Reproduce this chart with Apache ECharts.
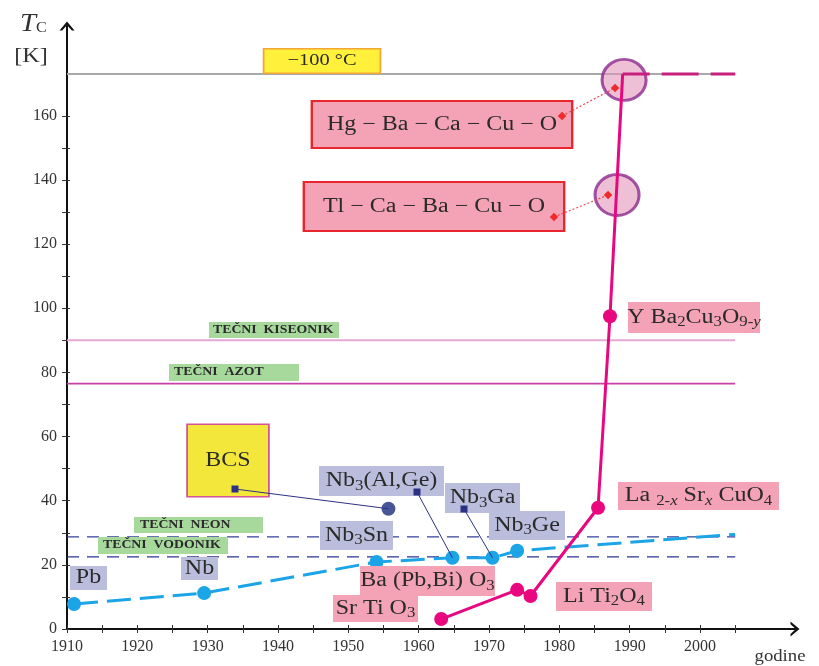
<!DOCTYPE html>
<html><head><meta charset="utf-8">
<script src="https://cdn.jsdelivr.net/npm/echarts@6/dist/echarts.min.js"></script>
<style>html,body{margin:0;padding:0;background:#fff}#c{width:819px;height:666px}</style>
</head><body><div id="c"></div>
<script>
// ---------- data ----------
const blueYears = [1911, 1929.5, 1954, 1964.8, 1970.5, 1974, 2005];
const blueTc    = [7.8, 11.2, 20.9, 22.2, 22.2, 24.4, 29.5];
const bluePointCount = 6;
const pinkYears = [1963.2, 1974, 1975.9, 1985.5, 1987.2, 1989.0];
const pinkTc    = [3.1, 12.2, 10.3, 37.8, 97.5, 173];
const pinkPointCount = 5;
const pinkDashYears = [1989.0, 2005];
const pinkDashTc    = [173, 173];
const bcsYears = [1955.7];
const bcsTc    = [37.5];
const circleYears = [1988.2, 1989.2];
const circleTc    = [135.3, 171.2];
const refNames = ['minus100', 'kiseonik', 'azot', 'neon', 'vodonik'];
const refTc    = [173, 90, 76.5, 28.7, 22.5];
const refYears = [1910, 2005];
const xTicks  = [1910,1915,1920,1925,1930,1935,1940,1945,1950,1955,1960,1965,1970,1975,1980,1985,1990,1995,2000,2005];
const xLabels = [1910,1920,1930,1940,1950,1960,1970,1980,1990,2000];
const yTicks  = [0,10,20,30,40,50,60,70,80,90,100,110,120,130,140,150,160];
const yLabels = [0,20,40,60,80,100,120,140,160];

// ---------- styles ----------
const SERIF = '"Liberation Serif","Times New Roman",serif';
const chevron = 'path://M0,12 L10,0 L20,12 L16.5,12 L10,5 L3.5,12 Z';
const refStyles = {
  minus100: {color: '#a9a9a9', width: 2, type: 'solid'},
  kiseonik: {color: '#e3a8d5', width: 2, type: 'solid'},
  azot:     {color: '#c73fa8', width: 1.6, type: 'solid'},
  neon:     {color: '#34409a', width: 1.3, type: [12, 8]},
  vodonik:  {color: '#2b3590', width: 1.3, type: [12, 8]}
};

const chart = echarts.init(document.getElementById('c'));

const series = [];
refNames.forEach((n, i) => {
  series.push({
    type: 'line', silent: true, symbol: 'none', z: 1,
    data: refYears.map(y => [y, refTc[i]]),
    lineStyle: refStyles[n]
  });
});
series.push({
  type: 'scatter', z: 2,
  data: circleYears.map((y, i) => [y, circleTc[i]]),
  symbol: 'circle', symbolSize: [44, 41],
  itemStyle: {color: 'rgba(226,150,186,0.75)', borderColor: '#8c2a8e', borderWidth: 3}
});
series.push({
  type: 'line', z: 3,
  data: blueYears.map((y, i) => i < bluePointCount ? [y, blueTc[i]] : {value: [y, blueTc[i]], symbol: 'none'}),
  symbol: 'circle', symbolSize: 14,
  itemStyle: {color: '#1ba4e6'},
  lineStyle: {color: '#1ba4e6', width: 3, type: [24, 9]}
});
series.push({
  type: 'scatter', z: 4,
  data: bcsYears.map((y, i) => [y, bcsTc[i]]),
  symbol: 'circle', symbolSize: 14,
  itemStyle: {color: '#1b2c7c'}
});
series.push({
  type: 'line', z: 3,
  data: pinkDashYears.map((y, i) => [y, pinkDashTc[i]]),
  symbol: 'none',
  lineStyle: {color: '#c8207e', width: 3, type: [37, 12], dashOffset: 10}
});
series.push({
  type: 'line', z: 5,
  data: pinkYears.map((y, i) => i < pinkPointCount ? [y, pinkTc[i]] : {value: [y, pinkTc[i]], symbol: 'none'}),
  symbol: 'circle', symbolSize: 14,
  itemStyle: {color: '#e8077f'},
  lineStyle: {color: '#e8077f', width: 3}
});

const axisLbl = {fontFamily: SERIF, fontSize: 16, color: '#333', formatter: v => String(v)};
chart.setOption({
  animation: false,
  grid: {left: 67, right: 24, top: 26, bottom: 37},
  xAxis: [{
    type: 'value', min: 1910, max: 2013.5, position: 'bottom',
    axisLine: {show: true, onZero: false, lineStyle: {color: '#111', width: 2}, symbol: ['none', chevron], symbolSize: [15, 12]},
    axisTick: {show: true, customValues: xTicks, length: 4, lineStyle: {color: '#333', width: 1}},
    axisLabel: Object.assign({customValues: xLabels, margin: 10}, axisLbl),
    splitLine: {show: false}
  }, {
    type: 'value', min: 1910, max: 2013.5, position: 'bottom',
    axisLine: {show: false},
    axisTick: {show: true, inside: true, customValues: xTicks, length: 4, lineStyle: {color: '#333', width: 1}},
    axisLabel: {show: false}, splitLine: {show: false}
  }],
  yAxis: [{
    type: 'value', min: 0, max: 188, position: 'left',
    axisLine: {show: true, onZero: false, lineStyle: {color: '#111', width: 2}, symbol: ['none', chevron], symbolSize: [15, 12]},
    axisTick: {show: true, customValues: yTicks, length: 5, lineStyle: {color: '#333', width: 1}},
    axisLabel: Object.assign({customValues: yLabels, margin: 10}, axisLbl),
    splitLine: {show: false}
  }, {
    type: 'value', min: 0, max: 188, position: 'left',
    axisLine: {show: false},
    axisTick: {show: true, inside: true, customValues: yTicks, length: 3, lineStyle: {color: '#333', width: 1}},
    axisLabel: {show: false}, splitLine: {show: false}
  }],
  series: series
});

// ---------- annotations ----------
const SX = 1.2;
function label(cx, cy, w, h, text, bg, opt) {
  opt = opt || {};
  const fs = opt.fs || 20;
  const sub = Math.round(fs * 0.7);
  const col = '#2a2a2a';
  const style = {
    text: text,
    rich: {
      n:  {fontFamily: SERIF, fontSize: fs, fill: col, lineHeight: h, fontWeight: opt.bold ? 'bold' : 'normal'},
      i:  {fontFamily: SERIF, fontSize: fs, fill: col, lineHeight: h, fontStyle: 'italic'},
      s:  {fontFamily: SERIF, fontSize: sub, fill: col, padding: [Math.round(fs * 0.5), 0, 0, 0]},
      si: {fontFamily: SERIF, fontSize: sub, fill: col, fontStyle: 'italic', padding: [Math.round(fs * 0.5), 0, 0, 0]}
    },
    width: (w - (opt.padL || 0)) / SX,
    backgroundColor: bg,
    align: opt.left ? 'left' : 'center',
    verticalAlign: 'middle',
    padding: [0, 0, 0, (opt.padL || 0) / SX]
  };
  if (opt.border) { style.borderColor = opt.border; style.borderWidth = opt.bw || 2; }
  return {type: 'text', x: opt.left ? cx - w / 2 : cx, y: cy, scaleX: SX, z: 100, style: style};
}

const PINK = '#f4a2b5', LAV = '#babedc', GREEN = '#a7d99d';
const g = [];
g.push(label(322, 61, 115, 23, '{n|−100 °C}', '#fff03c', {fs: 17, border: '#f2a636', bw: 1.5}));
g.push(label(442, 124.5, 258, 45, '{n|Hg − Ba − Ca − Cu − O}', PINK, {border: '#e8262e'}));
g.push(label(434, 206.5, 258, 47, '{n|Tl − Ca − Ba − Cu − O}', PINK, {border: '#e8262e'}));
g.push(label(694, 317.5, 132, 31, '{n|Y Ba}{s|2}{n|Cu}{s|3}{n|O}{s|9-}{si|y}', PINK));
g.push(label(698.5, 496, 161, 28, '{n|La }{s|2-}{si|x}{n| Sr}{si|x}{n| CuO}{s|4}', PINK));
g.push(label(604, 596.5, 96, 29, '{n|Li Ti}{s|2}{n|O}{s|4}', PINK));
g.push(label(375.5, 608.5, 85, 27, '{n|Sr Ti O}{s|3}', PINK));
g.push(label(427.5, 581, 135, 30, '{n|Ba (Pb,Bi) O}{s|3}', PINK));
g.push(label(228, 460.5, 80, 71, '{n|BCS}', '#f4e73c', {border: '#d2559a', bw: 1.5}));
g.push(label(381.5, 481, 125, 30, '{n|Nb}{s|3}{n|(Al,Ge)}', LAV));
g.push(label(482.5, 498, 75, 30, '{n|Nb}{s|3}{n|Ga}', LAV));
g.push(label(527, 525.5, 76, 29, '{n|Nb}{s|3}{n|Ge}', LAV));
g.push(label(356.5, 535.5, 73, 29, '{n|Nb}{s|3}{n|Sn}', LAV));
g.push(label(199.5, 568.5, 37, 23, '{n|Nb}', LAV));
g.push(label(88.5, 578, 37, 24, '{n|Pb}', LAV));
g.push(label(274, 330, 130, 16, '{n|TEČNI  KISEONIK}', GREEN, {fs: 11.5, bold: true, left: true, padL: 4}));
g.push(label(234, 372.5, 130, 17, '{n|TEČNI  AZOT}', GREEN, {fs: 11.5, bold: true, left: true, padL: 5}));
g.push(label(198.5, 525, 129, 16, '{n|TEČNI  NEON}', GREEN, {fs: 11.5, bold: true, left: true, padL: 6}));
g.push(label(163, 545.5, 130, 17, '{n|TEČNI  VODONIK}', GREEN, {fs: 11.5, bold: true, left: true, padL: 5}));

// axis titles
g.push({type: 'text', x: 20, y: 24, z: 100, scaleX: 1.15, style: {
  text: '{t|T}{c|C}', verticalAlign: 'middle',
  rich: {t: {fontFamily: SERIF, fontSize: 25, fontStyle: 'italic', fill: '#333'},
         c: {fontFamily: SERIF, fontSize: 14, fill: '#333', padding: [9, 0, 0, 0]}}}});
g.push({type: 'text', x: 31, y: 56, z: 100, scaleX: 1.15, style: {
  text: '[K]', font: '21px ' + SERIF, fill: '#333', align: 'center', verticalAlign: 'middle'}});
g.push({type: 'text', x: 780, y: 657, z: 100, scaleX: 1.1, style: {
  text: 'godine', font: '17px ' + SERIF, fill: '#333', align: 'center', verticalAlign: 'middle'}});

// pointers
function px(x, y) { return chart.convertToPixel({gridIndex: 0}, [x, y]); }
function redPointer(a, b) {
  g.push({type: 'line', z: 101, shape: {x1: a[0], y1: a[1], x2: b[0], y2: b[1]},
          style: {stroke: '#f04848', lineWidth: 1.2, lineDash: [2, 2]}});
  [a, b].forEach(p => g.push({type: 'rect', z: 102, x: p[0], y: p[1], rotation: Math.PI / 4,
          shape: {x: -3, y: -3, width: 6, height: 6}, style: {fill: '#ee2a2a'}}));
}
function navyPointer(a, b) {
  g.push({type: 'line', z: 101, shape: {x1: a[0], y1: a[1], x2: b[0], y2: b[1]},
          style: {stroke: '#2d3183', lineWidth: 1}});
  g.push({type: 'rect', z: 102, x: a[0], y: a[1], shape: {x: -3.5, y: -3.5, width: 7, height: 7}, style: {fill: '#2d3183'}});
}
const tlC = px(circleYears[0], circleTc[0]);
const hgC = px(circleYears[1], circleTc[1]);
redPointer([562, 116], [hgC[0] - 9, hgC[1] + 8]);
redPointer([554, 217], [tlC[0] - 9, tlC[1]]);
navyPointer([235, 489], px(bcsYears[0], bcsTc[0]));
navyPointer([417, 492], px(blueYears[3], blueTc[3]));
navyPointer([464, 509], px(blueYears[4], blueTc[4]));

chart.setOption({graphic: g});
</script>
</body></html>
